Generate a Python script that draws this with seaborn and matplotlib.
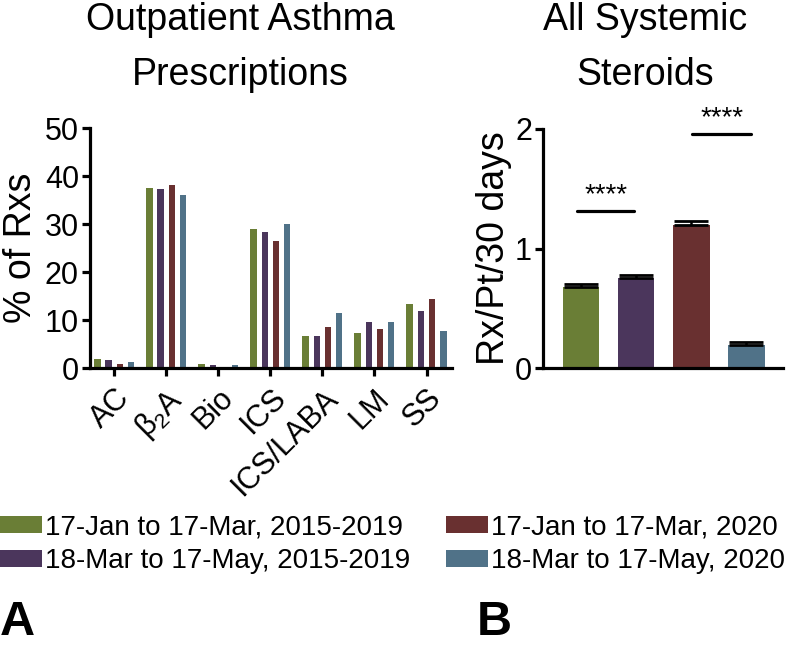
import numpy as np
import pandas as pd
import matplotlib
matplotlib.use('Agg')
import matplotlib.pyplot as plt
import seaborn as sns

# data
drugs = ['AC', r'$\mathregular{\beta_2}$A', 'Bio', 'ICS', 'ICS/LABA', 'LM', 'SS']
periods = ['17-Jan to 17-Mar, 2015-2019', '18-Mar to 17-May, 2015-2019',
           '17-Jan to 17-Mar, 2020', '18-Mar to 17-May, 2020']
pct_jan_hist = [1.9, 37.5, 0.9, 29.0, 6.7, 7.2, 13.3]
pct_mar_hist = [1.7, 37.3, 0.7, 28.4, 6.7, 9.6, 11.9]
pct_jan_2020 = [0.9, 38.2, 0.0, 26.4, 8.5, 8.1, 14.4]
pct_mar_2020 = [1.25, 36.0, 0.55, 29.9, 11.4, 9.6, 7.7]
steroid_rate = [0.68, 0.755, 1.195, 0.19]
steroid_sem = [0.022, 0.02, 0.035, 0.025]
colors = ['#6F8A2A', '#4B3062', '#722626', '#477491']

sns.set_style('ticks')
plt.rcParams['font.family'] = ['Liberation Sans', 'DejaVu Sans']
for k in ['text.color', 'axes.labelcolor', 'xtick.color', 'ytick.color', 'axes.edgecolor']:
    plt.rcParams[k] = 'black'
plt.rcParams['axes.linewidth'] = 2.3
plt.rcParams['xtick.major.width'] = 2.3
plt.rcParams['ytick.major.width'] = 2.3
plt.rcParams['xtick.major.size'] = 6
plt.rcParams['ytick.major.size'] = 6

fig = plt.figure(figsize=(7.91, 6.53), dpi=100)
W, H = 791, 653
ax1 = fig.add_axes([90 / W, 1 - 368 / H, 362 / W, 240 / H])
ax2 = fig.add_axes([543 / W, 1 - 368 / H, 240 / W, 239 / H])

# panel A
rows = []
for p, vals in zip(periods, [pct_jan_hist, pct_mar_hist, pct_jan_2020, pct_mar_2020]):
    for d, v in zip(drugs, vals):
        rows.append({'drug': d, 'period': p, 'pct': v})
df = pd.DataFrame(rows)
sns.barplot(data=df, x='drug', y='pct', hue='period', palette=colors,
            width=0.86, gap=0.42, linewidth=0, errorbar=None, ax=ax1)
handles, labels = ax1.get_legend_handles_labels()
ax1.get_legend().remove()
ax1.set_ylim(0, 50)
ax1.set_yticks(range(0, 51, 10))
ax1.set_xlim(-0.467, 6.49)
ax1.set_xlabel('')
ax1.set_ylabel('% of Rxs', fontsize=27, labelpad=4)
ax1.tick_params(axis='y', labelsize=22, pad=2)
ax1.tick_params(axis='x', labelsize=22, pad=5)
for t in ax1.get_xticklabels():
    t.set_rotation(45)
    t.set_ha('right')
    t.set_va('top')
    t.set_rotation_mode('anchor')
sns.despine(ax=ax1)

# panel B
sdf = pd.DataFrame({'period': periods, 'rate': steroid_rate})
sns.barplot(data=sdf, x='period', y='rate', hue='period', palette=colors,
            width=0.67, linewidth=0, errorbar=None, legend=False, ax=ax2)
ax2.errorbar(range(4), steroid_rate, yerr=[np.zeros(4), steroid_sem], fmt='none',
             ecolor='black', elinewidth=1.8, capsize=12, capthick=2)
ax2.set_ylim(0, 2)
ax2.set_yticks([0, 1, 2])
ax2.set_xlim(-0.69, 3.67)
ax2.set_xticks([])
ax2.set_xlabel('')
ax2.set_ylabel('Rx/Pt/30 days', fontsize=27, labelpad=2)
ax2.tick_params(axis='y', labelsize=22, pad=2)
sns.despine(ax=ax2)

# significance marks
for x0, x1, y in [(-0.07, 0.97, 1.316), (2.02, 3.09, 1.958)]:
    ax2.plot([x0, x1], [y, y], color='black', lw=2.3, clip_on=False)
    ax2.text((x0 + x1) / 2, y + 0.02, '****', ha='center', va='bottom',
             fontsize=20, clip_on=False)

# titles
fig.text(240 / W, 1 - 2 / H, 'Outpatient Asthma\nPrescriptions', ha='center', va='top',
         fontsize=27, linespacing=1.68)
fig.text(645 / W, 1 - 2 / H, 'All Systemic\nSteroids', ha='center', va='top',
         fontsize=27, linespacing=1.68)

fig.legend(handles, labels, loc='upper left', bbox_to_anchor=(0, 1 - 514 / H),
           ncol=2, frameon=False, fontsize=20, borderpad=0, borderaxespad=0,
           handlelength=1.5, handleheight=0.55, handletextpad=0.12,
           columnspacing=1.3, labelspacing=0.3)

fig.text(0, 1 - 635 / H, 'A', fontsize=35, weight='bold', va='baseline')
fig.text(477 / W, 1 - 635 / H, 'B', fontsize=35, weight='bold', va='baseline')

fig.savefig('out.png', dpi=100)
